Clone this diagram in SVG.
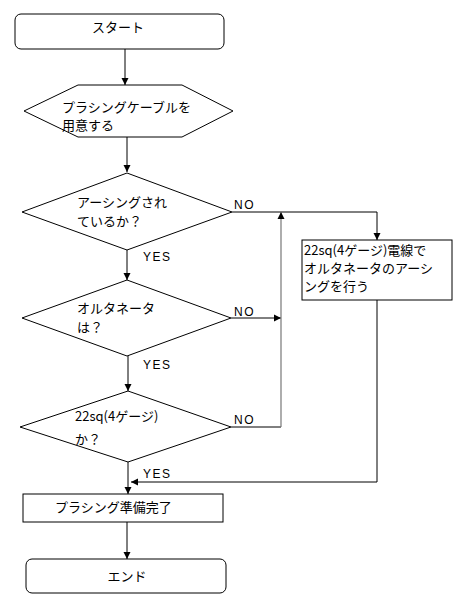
<svg xmlns="http://www.w3.org/2000/svg" width="464" height="605" viewBox="0 0 464 605">
<style>
.s{fill:#fff;stroke:#000;stroke-width:1}
.t{font-family:"Noto Sans CJK JP","Liberation Sans",sans-serif;font-size:13px;fill:#000}
.l{font-family:"Liberation Sans",Arial,sans-serif;font-size:12px;fill:#000;letter-spacing:1.5px}
.c{fill:none;stroke:#000;stroke-width:1}
</style>
<defs>
<marker id="a" markerWidth="8" markerHeight="8" refX="7" refY="4" orient="auto" markerUnits="userSpaceOnUse">
<path d="M0,0.5 L7,4 L0,7.5 Z" fill="#000"/>
</marker>
</defs>
<rect width="464" height="605" fill="#fff"/>
<g id="connectors">
<line class="c" x1="125" y1="49" x2="125" y2="85" marker-end="url(#a)"/>
<line class="c" x1="127" y1="137" x2="127" y2="172" marker-end="url(#a)"/>
<line class="c" x1="127" y1="250" x2="127" y2="280" marker-end="url(#a)"/>
<line class="c" x1="128" y1="356" x2="128" y2="391" marker-end="url(#a)"/>
<line class="c" x1="128" y1="462" x2="128" y2="494" marker-end="url(#a)"/>
<line class="c" x1="127" y1="522" x2="127" y2="559" marker-end="url(#a)"/>
<polyline class="c" points="232,212 377,212 377,240" marker-end="url(#a)"/>
<line class="c" x1="231" y1="318" x2="281" y2="318" marker-end="url(#a)"/>
<polyline class="c" points="231,427 281,427"/>
<line x1="281" y1="427" x2="281" y2="212" stroke="#777" stroke-width="1.2" marker-end="url(#a)"/>
<polyline class="c" points="377,300 377,482 131,482" marker-end="url(#a)"/>
<text class="l" x="234" y="209">NO</text>
<text class="l" x="234" y="316">NO</text>
<text class="l" x="234" y="424">NO</text>
<text class="l" x="143" y="261">YES</text>
<text class="l" x="143" y="369">YES</text>
<text class="l" x="143" y="478">YES</text>
</g>
<g id="start">
<rect class="s" x="15" y="14" width="209" height="35" rx="6"/>
<text class="t" x="118" y="32" text-anchor="middle">スタート</text>
</g>
<g id="prepare">
<polygon class="s" points="24,111 78,85 182,85 233,111 182,137 78,137"/>
<text class="t" x="62" y="112">プラシングケーブルを</text>
<text class="t" x="62" y="130">用意する</text>
</g>
<g id="q1">
<polygon class="s" points="127,173 232,212 127,250 22,212"/>
<text class="t" x="77" y="207">アーシングされ</text>
<text class="t" x="77" y="226">ているか？</text>
</g>
<g id="q2">
<polygon class="s" points="127,280 231,318 127,356 22,318"/>
<text class="t" x="77" y="313">オルタネータ</text>
<text class="t" x="77" y="332">は？</text>
</g>
<g id="q3">
<polygon class="s" points="128,391 231,427 128,462 20,427"/>
<text class="t" x="75" y="421">22sq(4ゲージ)</text>
<text class="t" x="75" y="444">か？</text>
</g>
<g id="ground">
<rect class="s" x="302" y="240" width="150" height="60"/>
<text class="t" x="304" y="255">22sq(4ゲージ)電線で</text>
<text class="t" x="304" y="273">オルタネータのアーシ</text>
<text class="t" x="304" y="291">ングを行う</text>
</g>
<g id="ready">
<rect class="s" x="23" y="494" width="200" height="28"/>
<text class="t" x="55" y="512">プラシング準備完了</text>
</g>
<g id="end">
<rect class="s" x="26" y="559" width="200" height="34" rx="6"/>
<text class="t" x="127" y="581" text-anchor="middle">エンド</text>
</g>
</svg>
